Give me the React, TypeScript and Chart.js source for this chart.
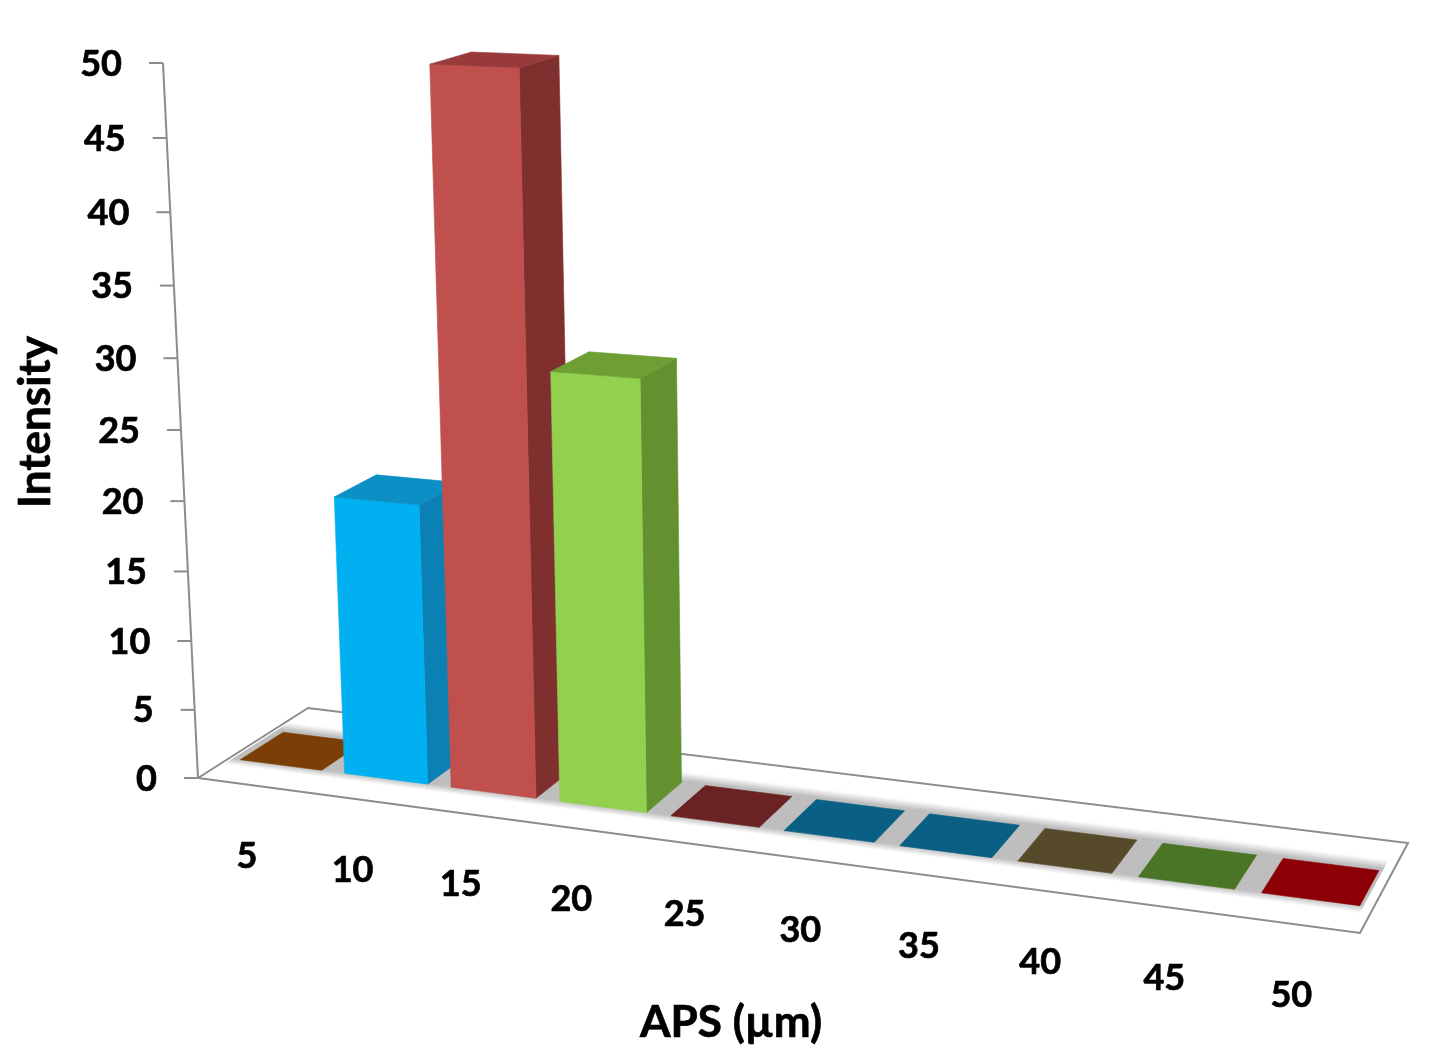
import React, { useEffect, useRef } from "react";
import { Chart, registerables, BarController, BarElement } from "chart.js";

const categories = ["5", "10", "15", "20", "25", "30", "35", "40", "45", "50"];
const intensity = [0, 20, 50, 30, 0, 0, 0, 0, 0, 0];
const frontColors = ["#B8660F", "#00B0F0", "#C0504D", "#92D050", "#943634", "#1A85B0", "#1A85B0", "#7D6B3C", "#669E33", "#C00000"];
const sideColors = ["#7A3E06", "#0A80B4", "#7F302E", "#639130", "#6A2222", "#0A5F85", "#0A5F85", "#574A2A", "#4A7526", "#8C0005"];
const topColors = ["#7A3E06", "#0B8FC4", "#98393A", "#6E9F35", "#6A2222", "#0A5F85", "#0A5F85", "#574A2A", "#4A7526", "#8C0005"];
const xTitle = "APS (µm)";
const yTitle = "Intensity";

const W = 1429;
const H = 1057;
const FONT = '"Lato", sans-serif';
type Pt = [number, number];

// view frame of the 3-D box: floor corners [front-left, front-right, back-right, back-left]
const FLOOR: Pt[] = [[198, 778], [1360, 933], [1408, 843], [308, 708]];
const AXIS_TOP: Pt = [163, 63];
const V_R = -0.052;
const BAR_W0 = 0.27;
const BAR_W1 = 0.66;
const U_WARP = 0.032;

function quadCoef(q: Pt[]) {
  const [[x0, y0], [x1, y1], [x2, y2], [x3, y3]] = q;
  const dx1 = x1 - x2, dx2 = x3 - x2, sx = x0 - x1 + x2 - x3;
  const dy1 = y1 - y2, dy2 = y3 - y2, sy = y0 - y1 + y2 - y3;
  const den = dx1 * dy2 - dx2 * dy1;
  const g = (sx * dy2 - dx2 * sy) / den;
  const h = (dx1 * sy - sx * dy1) / den;
  return { a: x1 - x0 + g * x1, b: x3 - x0 + h * x3, c: x0, d: y1 - y0 + g * y1, e: y3 - y0 + h * y3, f: y0, g, h };
}
const K = quadCoef(FLOOR);
const V_P = AXIS_TOP[0] * (1 + V_R) - FLOOR[0][0];
const V_Q = AXIS_TOP[1] * (1 + V_R) - FLOOR[0][1];

// full projective camera: (u along categories, w in depth, v in height) -> canvas
function project(u: number, w: number, v: number): Pt {
  const z = K.g * u + K.h * w + 1 + V_R * v;
  return [(K.a * u + K.b * w + K.c + V_P * v) / z, (K.d * u + K.e * w + K.f + V_Q * v) / z];
}
const warp = (u: number) => u + U_WARP * u * (1 - u);

function poly(ctx: CanvasRenderingContext2D, pts: Pt[], fill: string) {
  ctx.beginPath();
  pts.forEach((p, i) => (i ? ctx.lineTo(p[0], p[1]) : ctx.moveTo(p[0], p[1])));
  ctx.closePath();
  ctx.fillStyle = fill;
  ctx.fill();
  ctx.strokeStyle = fill;
  ctx.lineWidth = 0.6;
  ctx.stroke();
}

function label(ctx: CanvasRenderingContext2D, text: string, x: number, y: number) {
  ctx.fillText(text, x, y);
  ctx.strokeText(text, x, y);
}

class Bar3DElement extends BarElement {
  static id = "bar3d";
  draw(ctx: CanvasRenderingContext2D) {
    const self: any = this;
    const area = self.$context.chart.chartArea;
    const idx = self.$context.dataIndex;
    const u0 = warp((self.x - self.width / 2 - area.left) / area.width);
    const u1 = warp((self.x + self.width / 2 - area.left) / area.width);
    const v = (area.bottom - self.y) / area.height;
    const v0 = (area.bottom - self.base) / area.height;
    ctx.save();
    if (v > v0) {
      poly(ctx, [project(u1, BAR_W0, v0), project(u1, BAR_W1, v0), project(u1, BAR_W1, v), project(u1, BAR_W0, v)], sideColors[idx]);
      poly(ctx, [project(u0, BAR_W0, v0), project(u1, BAR_W0, v0), project(u1, BAR_W0, v), project(u0, BAR_W0, v)], self.options.backgroundColor);
    }
    poly(ctx, [project(u0, BAR_W0, v), project(u1, BAR_W0, v), project(u1, BAR_W1, v), project(u0, BAR_W1, v)], topColors[idx]);
    ctx.restore();
  }
}

class Bar3DController extends BarController {
  static id = "bar3d";
  static defaults = { ...BarController.defaults, dataElementType: "bar3d" };
}

const boxPlugin = {
  id: "box3d",
  beforeDatasetsDraw(chart: any) {
    const ctx: CanvasRenderingContext2D = chart.ctx;
    const area = chart.chartArea;
    ctx.save();
    // shaded strip on the floor
    const shade = (w: number) => {
      if (w < 0.2 || w > 0.79) return 255;
      if (w < 0.28) return 255 - (67 * (w - 0.2)) / 0.08;
      if (w > 0.69) return 188 + (67 * (w - 0.69)) / 0.1;
      return 188;
    };
    for (let w = 0.2; w < 0.79; w += 0.01) {
      const c = Math.round(shade(w + 0.005));
      poly(ctx, [project(0.004, w, 0), project(0.992, w, 0), project(0.992, w + 0.01, 0), project(0.004, w + 0.01, 0)], `rgb(${c},${c},${c})`);
    }
    // outline
    ctx.strokeStyle = "#8C8C8C";
    ctx.lineWidth = 2;
    ctx.beginPath();
    FLOOR.forEach((p, i) => (i ? ctx.lineTo(p[0], p[1]) : ctx.moveTo(p[0], p[1])));
    ctx.closePath();
    ctx.stroke();
    // value axis
    const yScale = chart.scales.y;
    const top = project(0, 0, 1);
    ctx.beginPath();
    ctx.moveTo(FLOOR[0][0], FLOOR[0][1]);
    ctx.lineTo(top[0], top[1]);
    ctx.stroke();
    ctx.fillStyle = "#000";
    ctx.font = `bold 36px ${FONT}`;
    ctx.textAlign = "right";
    ctx.textBaseline = "middle";
    yScale.ticks.forEach((t: any) => {
      const v = (area.bottom - yScale.getPixelForValue(t.value)) / area.height;
      const p = project(0, 0, v);
      ctx.strokeStyle = "#8C8C8C";
      ctx.lineWidth = 2;
      ctx.beginPath();
      ctx.moveTo(p[0], p[1]);
      ctx.lineTo(p[0] - 14, p[1]);
      ctx.stroke();
      ctx.strokeStyle = "#000";
      ctx.lineWidth = 0.7;
      label(ctx, String(t.value), p[0] - 41, p[1] + 1);
    });
    // category labels
    const xScale = chart.scales.x;
    ctx.textAlign = "center";
    categories.forEach((c, i) => {
      const u = warp((xScale.getPixelForValue(i) - area.left) / area.width);
      const p = project(u, 0, 0);
      label(ctx, c, p[0] - 3 - u - 10 * u * (1 - u), p[1] + 71);
    });
    // titles
    ctx.font = `bold 44px ${FONT}`;
    label(ctx, xTitle, 731, 1023);
    ctx.translate(36, 422);
    ctx.rotate(-Math.PI / 2);
    label(ctx, yTitle, 0, 0);
    ctx.restore();
  },
};

Chart.register(...registerables, Bar3DElement as any, Bar3DController as any);

export default function App() {
  const ref = useRef<HTMLCanvasElement>(null);
  useEffect(() => {
    const chart = new Chart(ref.current as HTMLCanvasElement, {
      type: "bar3d" as any,
      data: {
        labels: categories,
        datasets: [{ label: yTitle, data: intensity, backgroundColor: frontColors, barPercentage: 0.85, categoryPercentage: 0.92 } as any],
      },
      options: {
        animation: false,
        responsive: false,
        maintainAspectRatio: false,
        layout: { padding: 0 },
        plugins: { legend: { display: false }, tooltip: { enabled: false } },
        scales: {
          x: { type: "category", offset: true, display: false, grid: { display: false } },
          y: { type: "linear", min: 0, max: 50, display: false, ticks: { stepSize: 5 }, grid: { display: false } },
        },
      },
      plugins: [boxPlugin],
    } as any);
    return () => chart.destroy();
  }, []);
  return (
    <div style={{ position: "fixed", left: 0, top: 0, width: W, height: H, background: "#fff" }}>
      <canvas ref={ref} width={W} height={H} style={{ display: "block" }} />
    </div>
  );
}
